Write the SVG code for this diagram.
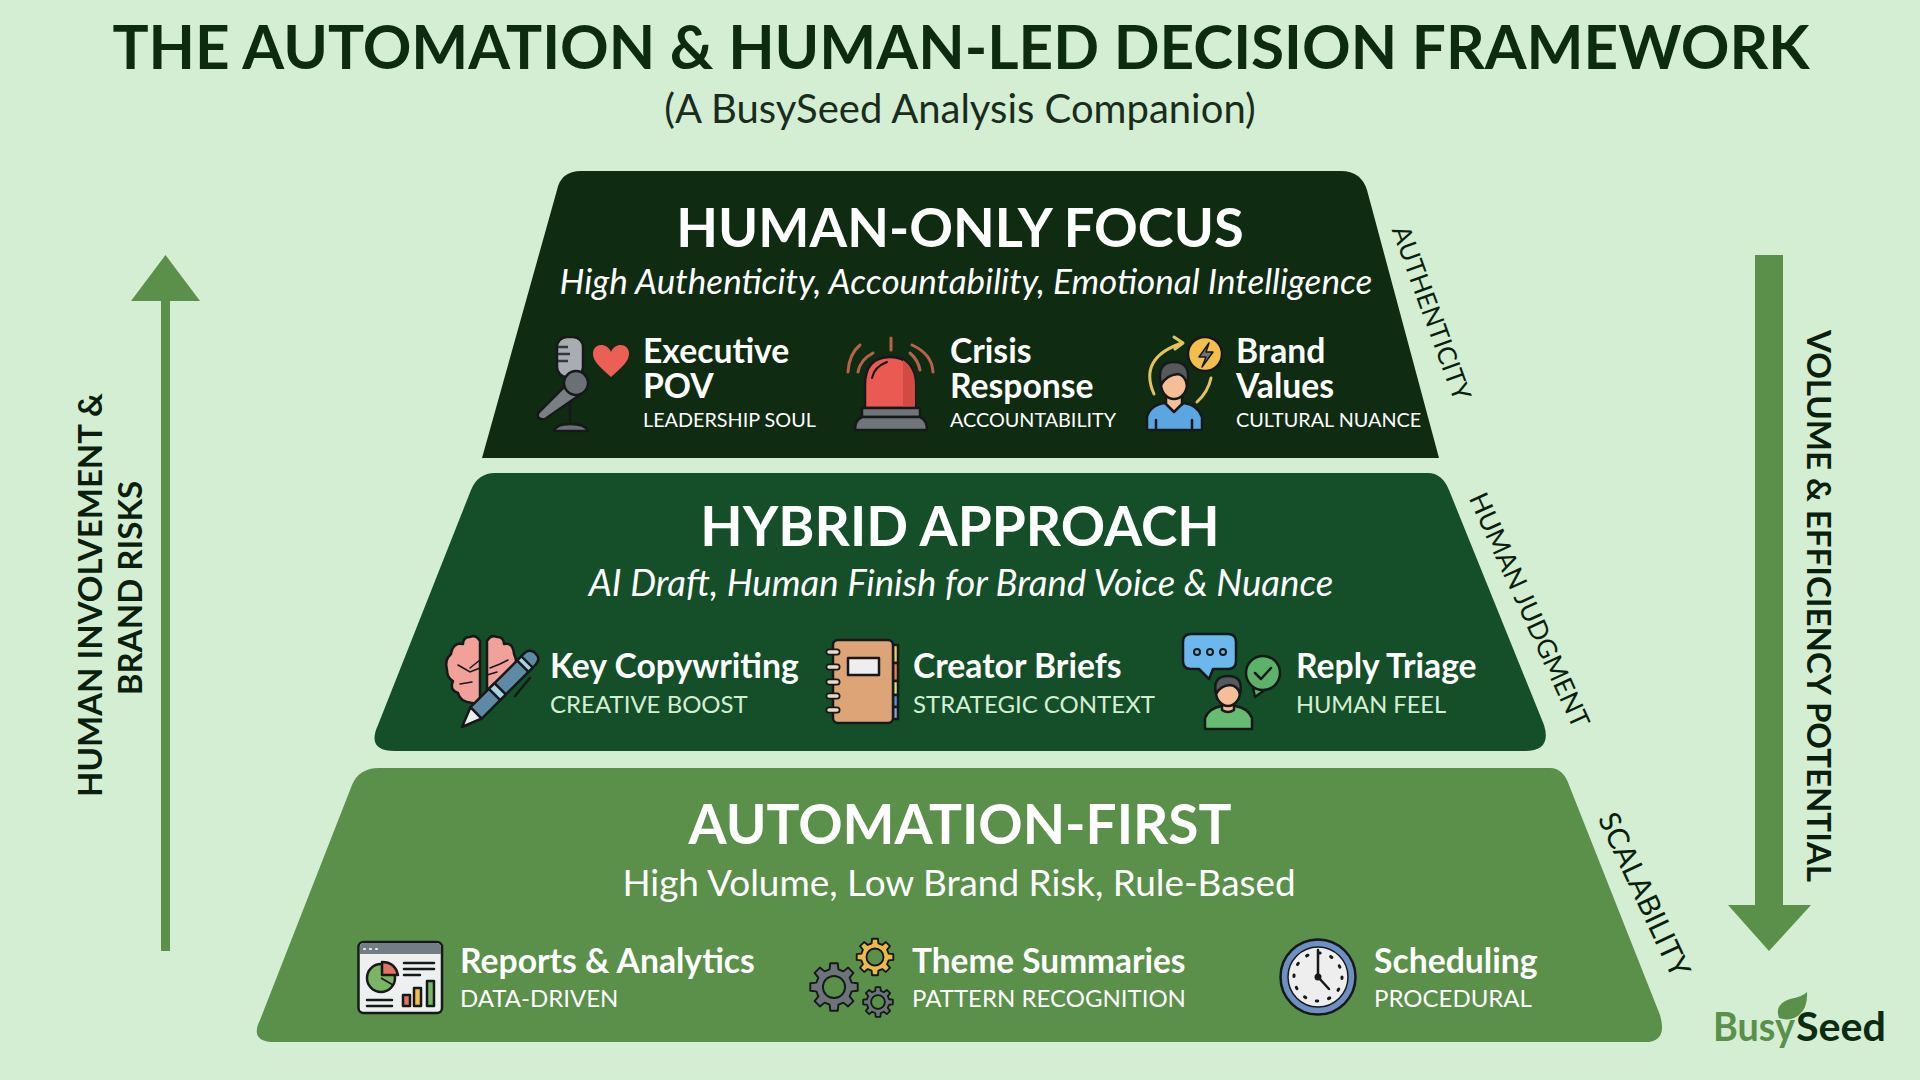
<svg xmlns="http://www.w3.org/2000/svg" xmlns:xlink="http://www.w3.org/1999/xlink" width="1920" height="1080" viewBox="0 0 1920 1080">
<defs>
<style>
text{font-family:Lato,"Liberation Sans",sans-serif}
.h{fill:#fff;font-weight:700;text-anchor:middle}
.s{fill:#fff;text-anchor:middle}
.i{font-style:italic}
.n{fill:#fff;font-weight:700;font-size:33.700px}
.d{fill:#fff;font-size:24px}
.d1{fill:#fff;font-size:19.800px}
.g{fill:#d4efd3}
.side{fill:#0c1f0e;text-anchor:middle}
.axis{fill:#0c1f0e;font-weight:700;font-size:33px;text-anchor:middle}
.k{stroke:#15191a;stroke-width:2.500;stroke-linejoin:round;stroke-linecap:round}
.l{fill:none;stroke:#15191a;stroke-width:2.500;stroke-linecap:round;stroke-linejoin:round}
.gear{stroke:#15191a;stroke-linejoin:round;fill-rule:evenodd}
.ray{fill:none;stroke:#b5634d;stroke-width:3;stroke-linecap:round}
.arc{fill:none;stroke:#e3c35a;stroke-width:3;stroke-linecap:round;stroke-linejoin:round}
</style>
<path id="gearShape" fill-rule="evenodd" d="M-1.84 -7.37L-1.56 -9.88L1.56 -9.88L1.84 -7.37L3.91 -6.51L5.88 -8.09L8.09 -5.88L6.51 -3.91L7.37 -1.84L9.88 -1.56L9.88 1.56L7.37 1.84L6.51 3.91L8.09 5.88L5.88 8.09L3.91 6.51L1.84 7.37L1.56 9.88L-1.56 9.88L-1.84 7.37L-3.91 6.51L-5.88 8.09L-8.09 5.88L-6.51 3.91L-7.37 1.84L-9.88 1.56L-9.88 -1.56L-7.37 -1.84L-6.51 -3.91L-8.09 -5.88L-5.88 -8.09L-3.91 -6.51ZM4.6 0A4.6 4.6 0 1 0 -4.6 0A4.6 4.6 0 1 0 4.6 0Z"/>
</defs>
<rect width="1920" height="1080" fill="#d4eed3"/>
<g id="title">
<text x="961" y="69" text-anchor="middle" font-size="60.300" font-weight="700" fill="#0d2b11">THE AUTOMATION &amp; HUMAN-LED DECISION FRAMEWORK</text>
<text x="960" y="123" text-anchor="middle" font-size="40" fill="#1a2c1c">(A BusySeed Analysis Companion)</text>
</g>
<g id="connectors">
<g id="up-arrow"><rect x="161" y="298" width="9" height="653" fill="#5a9049"/><path d="M165.500 255 L200 301 L131 301 Z" fill="#5a9049"/></g>
<g id="down-arrow"><rect x="1755" y="255" width="28" height="652" fill="#5a9049"/><path d="M1728 905 L1811 905 L1769 951 Z" fill="#5a9049"/></g>
</g>
<g id="axis-labels">
<text class="axis" transform="translate(102 595) rotate(-90)">HUMAN INVOLVEMENT &amp;</text>
<text class="axis" transform="translate(142 588) rotate(-90)">BRAND RISKS</text>
<text class="axis" transform="translate(1807 606) rotate(90)">VOLUME &amp; EFFICIENCY POTENTIAL</text>
</g>
<g id="tier-human">
<path d="M557 190 Q561 171 581 171 L1341 171 Q1361 171 1367 190 L1439 458 L482 458 Z" fill="#0f2c13"/>
<text class="h" font-size="54.200" x="960" y="247">HUMAN-ONLY FOCUS</text>
<text class="s i" font-size="35.100" x="966" y="294">High Authenticity, Accountability, Emotional Intelligence</text>
<text class="side" font-size="25.800" transform="translate(1423 316) rotate(70)">AUTHENTICITY</text>
<g id="item-executive">
<rect x="557" y="337" width="26" height="40" rx="10" fill="#a9adb2" class="k" stroke-width="1"/>
<path d="M558 347h10M558 354h12M558 361h10" fill="none" stroke="#34383b" stroke-width="2.500"/>
<path d="M611 377C600 367 593 361 593 354C593 343 607 342 611 352C615 342 629 343 629 354C629 361 622 367 611 377Z" fill="#ec5f57"/>
<path d="M570 400V426" class="k" stroke-width="4" fill="none" stroke="#6b7075"/>
<path d="M554 431Q556 424 570 424Q585 424 588 431Z" fill="#6b7075" class="k"/>
<path d="M565 386L581 394L545 419Q540 420 538 417Q537 414 539 412Z" fill="#7a7f83" class="k"/>
<circle cx="576" cy="383" r="12" fill="#6b7075" class="k"/>
<text class="n" x="643" y="363">Executive</text>
<text class="n" x="643" y="398">POV</text>
<text class="d1" x="643" y="427">LEADERSHIP SOUL</text>
</g>
<g id="item-crisis">
<path d="M865 408V385Q865 357 890 357Q915 357 915 385V408Z" fill="#ea5a52" class="k"/>
<path d="M903 360Q915 368 915 385V408H903Z" fill="#d24a42"/>
<path d="M872 378Q874 367 887 362" fill="none" stroke="#15191a" stroke-width="2" stroke-linecap="round"/>
<rect x="862" y="408" width="58" height="9" fill="#70757a" class="k"/>
<path d="M862 417H920Q927 420 927 430H855Q855 420 862 417Z" fill="#70757a" class="k"/>
<path class="ray" d="M891 338V350M848 372Q849 354 860 345M858 372Q860 360 873 353M933 372Q932 354 912 345M920 370Q918 360 910 353"/>
<text class="n" x="950" y="363">Crisis</text>
<text class="n" x="950" y="398">Response</text>
<text class="d1" x="950" y="427">ACCOUNTABILITY</text>
</g>
<g id="item-brand">
<path class="arc" d="M1154 394Q1138 358 1182 343M1174 337L1183 343L1175 349M1197 402Q1208 392 1211 378"/>
<circle cx="1205" cy="354" r="17" fill="#f2bf4c" class="k"/>
<path d="M1209 343L1199 357H1206L1202 367L1213 352H1206Z" fill="#6c7478" stroke="#15191a" stroke-width="1.500" stroke-linejoin="round"/>
<path d="M1147 430V417Q1150 405 1165 403L1174 410L1184 403Q1198 405 1202 417V430Z" fill="#5ba6e1" class="k"/>
<path d="M1166 392V404L1174 412L1182 404V392Z" fill="#f5be96" class="k"/>
<ellipse cx="1174" cy="384" rx="13" ry="15" fill="#f5be96" class="k"/>
<path d="M1161 385Q1156 362 1174 362Q1192 362 1187 385Q1185 375 1178 374Q1166 375 1161 385Z" fill="#55595c" class="k"/>
<path d="M1156 430V420M1192 430V420" class="l"/>
<text class="n" x="1236" y="363">Brand</text>
<text class="n" x="1236" y="398">Values</text>
<text class="d1" x="1236" y="427">CULTURAL NUANCE</text>
</g>
</g>
<g id="tier-hybrid">
<path d="M471 490Q478 473 495 473L1428 473Q1442 473 1449 490L1544 725Q1552 751 1525 751L395 751Q366 751 378 725Z" fill="#144f29"/>
<text class="h" font-size="55" x="960" y="546">HYBRID APPROACH</text>
<text class="s i" font-size="36.600" x="961" y="596">AI Draft, Human Finish for Brand Voice &amp; Nuance</text>
<text class="side" font-size="26.500" transform="translate(1521 614) rotate(65.600)">HUMAN JUDGMENT</text>
<g id="item-copywriting">
<path d="M480 641Q476 634 470 637Q463 637 463 644Q453 642 451 654Q444 660 447 670Q447 678 453 681Q449 690 458 693Q460 702 472 703Q478 705 480 700Z" fill="#f2a09a" class="k"/>
<path d="M487 641Q491 634 497 637Q504 637 504 644Q513 642 514 654Q518 662 515 672L487 695Z" fill="#f2a09a" class="k"/>
<path d="M480 660L470 668M458 665L470 672L480 668M460 684L472 682M490 668L500 664L508 660M487 675L497 672" fill="none" stroke="#15191a" stroke-width="1.500" stroke-linecap="round"/>
<path d="M515 696L530 678" class="l" stroke-width="2"/>
<g transform="translate(462 727) rotate(-45)">
<path d="M0 0L20 -8V8Z" fill="#eeeeee" class="k"/>
<path d="M20 -8H96Q104 -8 104 0Q104 8 96 8H20Z" fill="#5f8aa5" class="k"/>
<rect x="46" y="-8" width="8" height="16" fill="#a9d2e4" class="k" stroke-width="1.500"/>
<rect x="86" y="-8" width="6" height="16" fill="#a9d2e4" class="k" stroke-width="1.500"/>
</g>
<text class="n" x="550" y="678">Key Copywriting</text>
<text class="d g" x="550" y="713">CREATIVE BOOST</text>
</g>
<g id="item-briefs">
<rect x="893" y="645" width="5" height="18" fill="#e6cf6f" class="k" stroke-width="1"/><rect x="893" y="663" width="5" height="18" fill="#e07f62" class="k" stroke-width="1"/><rect x="893" y="681" width="5" height="14" fill="#d3e07e" class="k" stroke-width="1"/><rect x="893" y="695" width="5" height="12" fill="#5a93cf" class="k" stroke-width="1"/><rect x="893" y="707" width="5" height="12" fill="#8d9fd8" class="k" stroke-width="1"/>
<rect x="833" y="640" width="60" height="83" rx="5" fill="#dda577" class="k"/>
<rect x="848" y="658" width="31" height="17" fill="#eeeeee" class="k"/>
<path d="M829 652H837M829 667H837M829 682H837M829 696H837M829 710H837" stroke="#15191a" stroke-width="7" stroke-linecap="round"/>
<path d="M829 652H837M829 667H837M829 682H837M829 696H837M829 710H837" stroke="#e8d9c8" stroke-width="3.500" stroke-linecap="round"/>
<text class="n" x="913" y="678">Creator Briefs</text>
<text class="d g" x="913" y="713">STRATEGIC CONTEXT</text>
</g>
<g id="item-reply">
<path d="M1191 634H1228Q1236 634 1236 642V661Q1236 669 1228 669H1213L1209 679L1199 669H1191Q1183 669 1183 661V642Q1183 634 1191 634Z" fill="#6cb7ec" class="k"/>
<circle cx="1197" cy="652" r="3" fill="none" stroke="#15191a" stroke-width="2"/><circle cx="1210" cy="652" r="3" fill="none" stroke="#15191a" stroke-width="2"/><circle cx="1223" cy="652" r="3" fill="none" stroke="#15191a" stroke-width="2"/>
<path d="M1253 688L1255 697L1266 689Z" fill="#5cb269" class="k"/>
<circle cx="1263" cy="673" r="17" fill="#5cb269" class="k"/>
<path d="M1255 673L1261 679L1271 668" class="l"/>
<path d="M1205 729V718Q1209 708 1222 706H1235Q1248 708 1252 718V729Z" fill="#68bb72" class="k"/>
<path d="M1222 700V710Q1228 714 1234 710V700Z" fill="#f5be96" class="k"/>
<ellipse cx="1228" cy="692" rx="12" ry="14" fill="#f5be96" class="k"/>
<path d="M1216 694Q1212 676 1228 676Q1244 676 1240 694Q1238 686 1230 685Q1220 686 1216 694Z" fill="#55595c" class="k"/>
<text class="n" x="1296" y="678" font-size="34.400">Reply Triage</text>
<text class="d g" x="1296" y="713" style="font-size:23.600px">HUMAN FEEL</text>
</g>
</g>
<g id="tier-automation">
<path d="M352 785Q359 768 379 768L1550 768Q1563 768 1569 785L1660 1015Q1668 1042 1645 1042L275 1042Q249 1042 260 1020Z" fill="#5a9049"/>
<text class="h" font-size="55" x="960" y="844">AUTOMATION-FIRST</text>
<text class="s" font-size="36.900" x="959" y="896">High Volume, Low Brand Risk, Rule-Based</text>
<text class="side" font-size="29.500" transform="translate(1635 899) rotate(65)">SCALABILITY</text>
<g id="item-reports">
<rect x="358.500" y="942" width="83.500" height="71" rx="5" fill="#eef0f0" class="k"/>
<path d="M360 954V947Q360 943 364 943H436Q441 943 441 947V954Z" fill="#737d85"/>
<path d="M364 949h1M370 949h1M376 949h1" stroke="#eeeeee" stroke-width="2" stroke-linecap="round"/>
<circle cx="381" cy="978" r="14" fill="#79b565" class="k" stroke-width="2"/>
<path d="M381 978L393 985" stroke="#15191a" stroke-width="1.500"/>
<path d="M382 962Q395 962 398 975L382 975Z" fill="#e57160" class="k" stroke-width="2"/>
<path class="l" stroke-width="2" d="M404 963H434M404 969H434M404 975H420M367 1000H392M367 1006H392"/>
<rect x="403" y="995" width="7" height="11" fill="#e57160" class="k" stroke-width="1.500"/><rect x="414" y="988" width="7" height="18" fill="#f2bf4c" class="k" stroke-width="1.500"/><rect x="427" y="981" width="7" height="25" fill="#79b565" class="k" stroke-width="1.500"/>
<text class="n" x="460" y="973">Reports &amp; Analytics</text>
<text class="d" x="460" y="1007">DATA-DRIVEN</text>
</g>
<g id="item-themes">
<use xlink:href="#gearShape" href="#gearShape" class="gear" fill="#6c7479" stroke-width="0.800" transform="translate(834 987) scale(2.400)"/>
<use xlink:href="#gearShape" href="#gearShape" class="gear" fill="#eeb94c" stroke-width="1" transform="translate(875 957) scale(1.850)"/>
<use xlink:href="#gearShape" href="#gearShape" class="gear" fill="#6c7479" stroke-width="1.200" transform="translate(878 1002) scale(1.500)"/>
<text class="n" x="912" y="973" style="font-size:33.400px">Theme Summaries</text>
<text class="d" x="912" y="1007">PATTERN RECOGNITION</text>
</g>
<g id="item-scheduling">
<circle cx="1318" cy="977" r="37.500" fill="#6f8fc4" class="k"/>
<circle cx="1318" cy="977" r="30" fill="#eeeeee" stroke="#15191a" stroke-width="1.500"/>
<circle cx="1318" cy="977" r="24" fill="none" stroke="#15191a" stroke-width="3" stroke-dasharray="1.500 11.066" stroke-linecap="round"/>
<path class="l" d="M1318 977V950M1318 977L1329 989"/>
<circle cx="1318" cy="977" r="3.500" fill="#15191a"/>
<text class="n" x="1374" y="973">Scheduling</text>
<text class="d" x="1374" y="1007">PROCEDURAL</text>
</g>
</g>
<g id="logo">
<text x="1713" y="1041" font-size="40" font-weight="700" fill="#5a9049" textLength="82" lengthAdjust="spacingAndGlyphs">Busy</text>
<text x="1796" y="1041" font-size="40" font-weight="700" fill="#0d2b11" textLength="90" lengthAdjust="spacingAndGlyphs">Seed</text>
<path d="M1779 1018Q1774 1004 1790 999Q1802 997 1807 992Q1808 1008 1799 1015Q1790 1022 1779 1018Z" fill="#5a9049"/>
</g>
</svg>
